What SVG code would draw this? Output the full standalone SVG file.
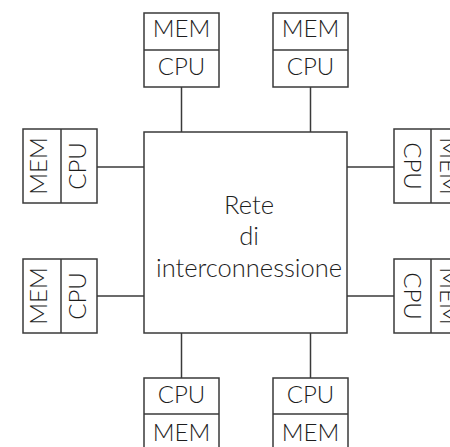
<svg xmlns="http://www.w3.org/2000/svg" width="450" height="447" viewBox="0 0 450 447">
<style>
.b{fill:#fff;stroke:#3a3a3a;stroke-width:1.5}
.l{stroke:#3a3a3a;stroke-width:1.5;fill:none}
text{font-family:Lato,"Liberation Sans",sans-serif;font-weight:300;fill:#1e1e1e;font-size:24px;text-anchor:middle}
.c{font-size:25.5px}
</style>
<rect width="450" height="447" fill="#fff"/>
<g id="connectors">
<line class="l" x1="181.5" y1="87" x2="181.5" y2="132"/>
<line class="l" x1="310.5" y1="87" x2="310.5" y2="132"/>
<line class="l" x1="181.5" y1="333" x2="181.5" y2="378"/>
<line class="l" x1="310.5" y1="333" x2="310.5" y2="378"/>
<line class="l" x1="97" y1="167" x2="144" y2="167"/>
<line class="l" x1="97" y1="296" x2="144" y2="296"/>
<line class="l" x1="347" y1="167" x2="394" y2="167"/>
<line class="l" x1="347" y1="296" x2="394" y2="296"/>
</g>
<g id="rete">
<rect class="b" x="144" y="132" width="203" height="201"/>
<text class="c" x="249" y="214">Rete</text>
<text class="c" x="249" y="245">di</text>
<text class="c" x="249" y="277">interconnessione</text>
</g>
<g id="top1">
<rect class="b" x="144" y="13" width="75" height="74"/>
<line class="l" x1="144" y1="50" x2="219" y2="50"/>
<text x="181.5" y="37">MEM</text>
<text x="181.5" y="75">CPU</text>
</g>
<g id="top2">
<rect class="b" x="273" y="13" width="75" height="74"/>
<line class="l" x1="273" y1="50" x2="348" y2="50"/>
<text x="310.5" y="37">MEM</text>
<text x="310.5" y="75">CPU</text>
</g>
<g id="bot1">
<rect class="b" x="144" y="378" width="75" height="74"/>
<line class="l" x1="144" y1="414" x2="219" y2="414"/>
<text x="181.5" y="403">CPU</text>
<text x="181.5" y="441">MEM</text>
</g>
<g id="bot2">
<rect class="b" x="273" y="378" width="75" height="74"/>
<line class="l" x1="273" y1="414" x2="348" y2="414"/>
<text x="310.5" y="403">CPU</text>
<text x="310.5" y="441">MEM</text>
</g>
<g id="left1">
<rect class="b" x="23" y="129" width="74" height="74"/>
<line class="l" x1="61" y1="129" x2="61" y2="203"/>
<text transform="translate(47,166) rotate(-90)">MEM</text>
<text transform="translate(86,166) rotate(-90)">CPU</text>
</g>
<g id="left2">
<rect class="b" x="23" y="259" width="74" height="74"/>
<line class="l" x1="61" y1="259" x2="61" y2="333"/>
<text transform="translate(47,296) rotate(-90)">MEM</text>
<text transform="translate(86,296) rotate(-90)">CPU</text>
</g>
<g id="right1">
<rect class="b" x="394" y="129" width="74" height="74"/>
<line class="l" x1="431" y1="129" x2="431" y2="203"/>
<text transform="translate(403.5,166) rotate(90)">CPU</text>
<text transform="translate(440,166) rotate(90)">MEM</text>
</g>
<g id="right2">
<rect class="b" x="394" y="259" width="74" height="74"/>
<line class="l" x1="431" y1="259" x2="431" y2="333"/>
<text transform="translate(403.5,296) rotate(90)">CPU</text>
<text transform="translate(440,296) rotate(90)">MEM</text>
</g>
</svg>
